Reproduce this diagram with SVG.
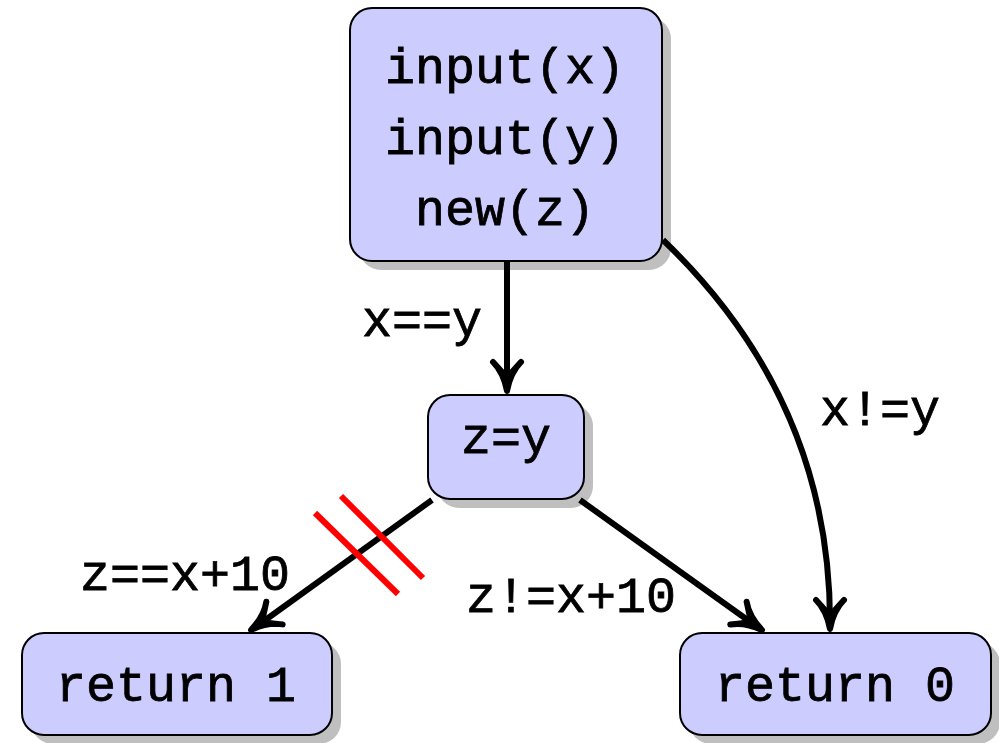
<svg xmlns="http://www.w3.org/2000/svg" width="999" height="743" viewBox="0 0 999 743">
<style>
.box{fill:#ccccff;stroke:#000;stroke-width:2}
.shadow{fill:#bfbfbf}
.t{font-family:"Liberation Mono","Courier New",monospace;font-size:50px;fill:#000;stroke:#000;stroke-width:0.8;text-anchor:middle}
.edge{fill:none;stroke:#000;stroke-width:6}
.ah{fill:#000;stroke:#000;stroke-width:6;stroke-linecap:round;stroke-linejoin:round}
.cut{stroke:#ff0000;stroke-width:6}
</style>
<defs>
<path id="arrow" class="ah" d="M -29,-14 C -21,-6 -8,-1.5 0,0 C -8,1.5 -21,6 -29,14 Q -17,3 -13,0 Q -17,-3 -29,-14 Z"/>
</defs>
<rect width="999" height="743" fill="#fff"/>
<g id="n1">
<rect class="shadow" x="359" y="17" width="312" height="253" rx="22"/>
<rect class="box" x="350" y="8" width="312" height="253" rx="22"/>
<text class="t" x="505" y="83">input(x)</text>
<text class="t" x="505" y="154">input(y)</text>
<text class="t" x="505" y="225">new(z)</text>
</g>
<g id="n2">
<rect class="shadow" x="437" y="404" width="156" height="104" rx="22"/>
<rect class="box" x="428" y="395" width="156" height="104" rx="22"/>
<text class="t" x="506" y="453">z=y</text>
</g>
<g id="n3">
<rect class="shadow" x="31" y="642" width="310" height="102" rx="22"/>
<rect class="box" x="22" y="633" width="310" height="102" rx="22"/>
<text class="t" x="176" y="701">return 1</text>
</g>
<g id="n4">
<rect class="shadow" x="689" y="642" width="311" height="102" rx="22"/>
<rect class="box" x="680" y="633" width="311" height="102" rx="22"/>
<text class="t" x="835" y="701">return 0</text>
</g>
<g id="edges">
<path class="edge" d="M 507,261 L 507,385"/>
<use href="#arrow" transform="translate(507,391) rotate(90)"/>
<text class="t" x="422" y="336">x==y</text>
<path class="edge" d="M 663,240 Q 830,400 830,622"/>
<use href="#arrow" transform="translate(830,629) rotate(90)"/>
<text class="t" x="880" y="425">x!=y</text>
<path class="edge" d="M 432,500 L 257,626"/>
<use href="#arrow" transform="translate(251,630) rotate(144.2)"/>
<line class="cut" x1="315" y1="513" x2="398" y2="594"/>
<line class="cut" x1="341" y1="496" x2="423" y2="578"/>
<text class="t" x="185" y="590">z==x+10</text>
<path class="edge" d="M 580,500 L 756,626"/>
<use href="#arrow" transform="translate(762,630) rotate(35.7)"/>
<text class="t" x="571" y="612">z!=x+10</text>
</g>
</svg>
